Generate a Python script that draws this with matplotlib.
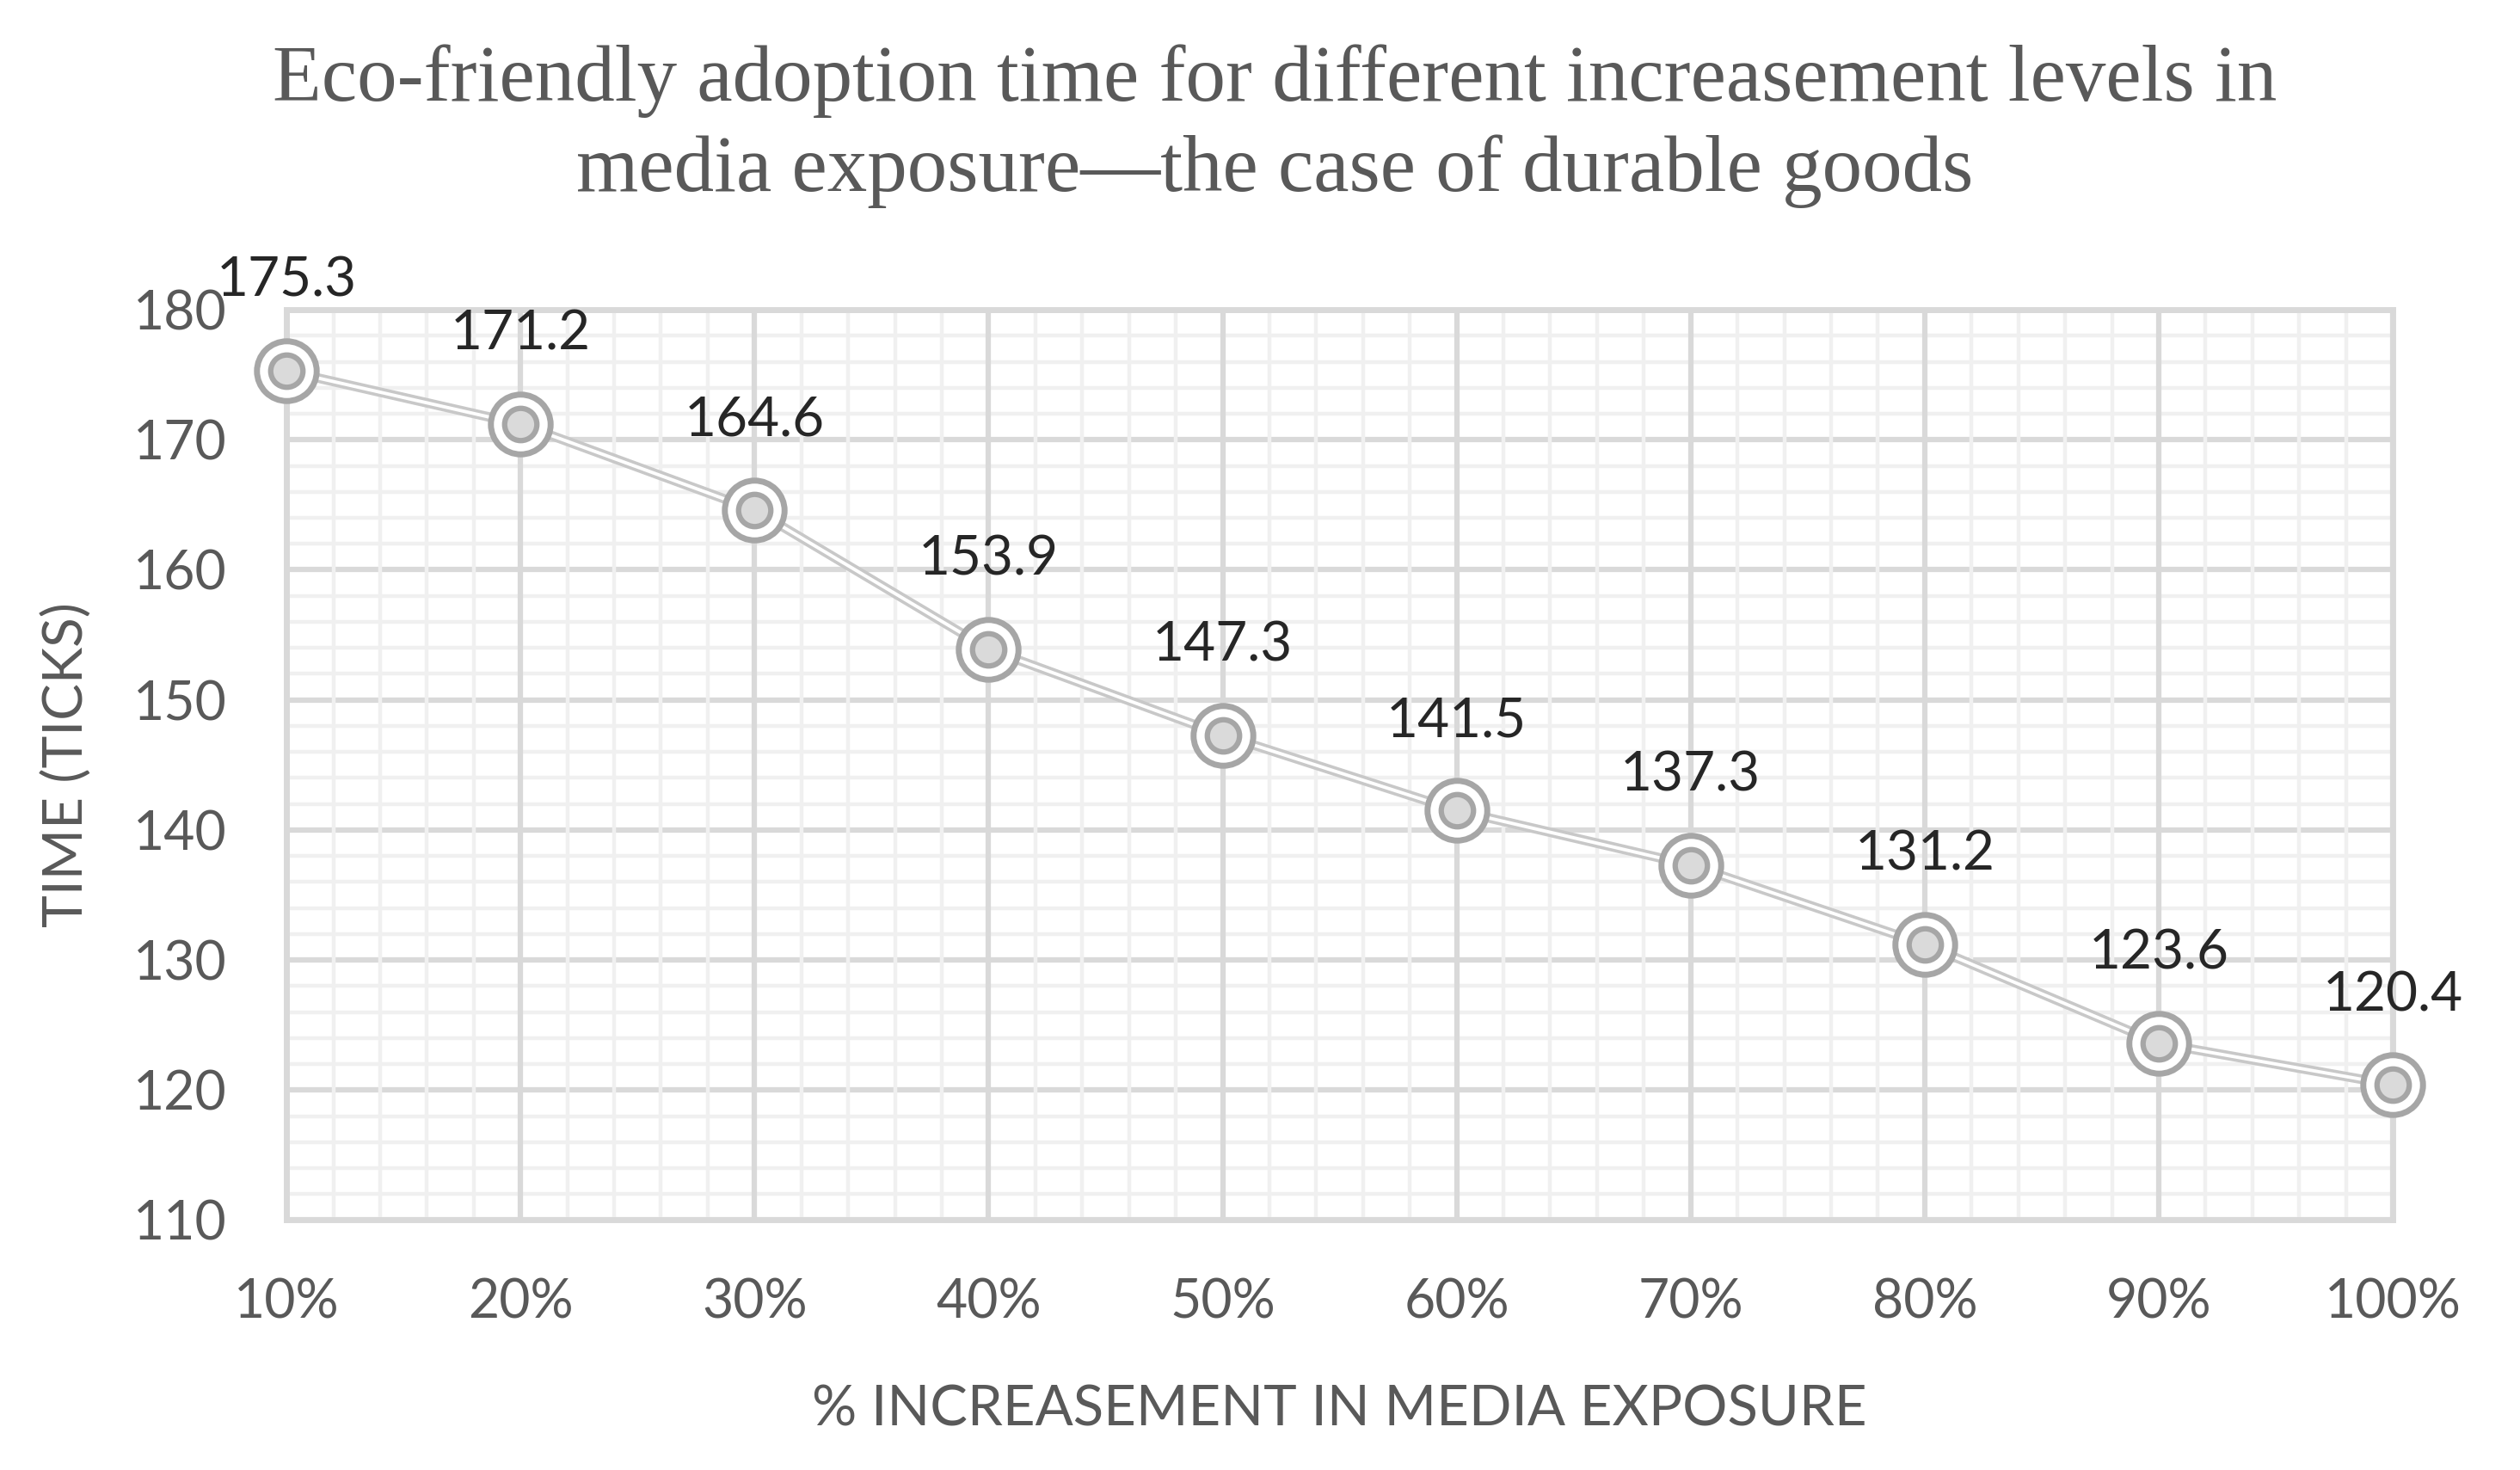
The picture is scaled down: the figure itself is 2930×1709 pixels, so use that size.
import matplotlib.pyplot as plt
from matplotlib.ticker import MultipleLocator

# data
levels = ['10%', '20%', '30%', '40%', '50%', '60%', '70%', '80%', '90%', '100%']
adoption_time = [175.3, 171.2, 164.6, 153.9, 147.3, 141.5, 137.3, 131.2, 123.6, 120.4]

grey_text = '#595959'
ring = '#a6a6a6'

fig = plt.figure(figsize=(29.3, 17.09), dpi=100)
ax = fig.add_axes([0.1137, 0.170, 0.8358, 0.6193])

x = list(range(len(levels)))

# double line, excel style
ax.plot(x, adoption_time, color='#c8c8c8', lw=8, zorder=3, solid_capstyle='round')
ax.plot(x, adoption_time, color='white', lw=2.8, zorder=4)

# concentric circle markers
ax.plot(x, adoption_time, ls='none', marker='o', ms=50, mfc='white', mec=ring, mew=5,
        zorder=5, clip_on=False)
ax.plot(x, adoption_time, ls='none', marker='o', ms=27, mfc='#dadada', mec=ring, mew=4.5,
        zorder=6, clip_on=False)

for xi, v in zip(x, adoption_time):
    ax.annotate(f'{v}', (xi, v), xytext=(0, 75), textcoords='offset points',
                ha='center', va='center', fontsize=46, color='#262626',
                family='Lato', zorder=7, annotation_clip=False)

ax.set_xlim(0, len(levels) - 1)
ax.set_ylim(110, 180)
ax.set_xticks(x)
ax.set_xticklabels(levels)
ax.yaxis.set_major_locator(MultipleLocator(10))
ax.yaxis.set_minor_locator(MultipleLocator(2))
ax.xaxis.set_minor_locator(MultipleLocator(0.2))

ax.grid(which='major', color='#d9d9d9', lw=4.5)
ax.grid(which='minor', color='#f0f0f0', lw=3.2)
ax.set_axisbelow(True)
# horizontal grid first, vertical lines drawn over it
ax.yaxis.set_zorder(0.4)
ax.xaxis.set_zorder(0.6)
for s in ax.spines.values():
    s.set_color('#d9d9d9')
    s.set_linewidth(5)
    s.set_zorder(1)

ax.tick_params(which='both', length=0)
ax.tick_params(axis='x', pad=48, labelsize=45, labelcolor=grey_text)
ax.tick_params(axis='y', pad=50, labelsize=45, labelcolor=grey_text)
for lab in ax.get_xticklabels() + ax.get_yticklabels():
    lab.set_family('Lato')

ax.set_xlabel('% INCREASEMENT IN MEDIA EXPOSURE', fontsize=47, color=grey_text,
              family='Lato', labelpad=48)
ax.set_ylabel('TIME (TICKS)', fontsize=46, color=grey_text, family='Lato', labelpad=34)

fig.text(0.506, 0.914, 'Eco-friendly adoption time for different increasement levels in\n'
         'media exposure\u2014the case of durable goods',
         ha='center', va='center', fontsize=67, color=grey_text,
         family='Liberation Serif', linespacing=1.3)

fig.savefig('out.png', dpi=100, facecolor='white')
